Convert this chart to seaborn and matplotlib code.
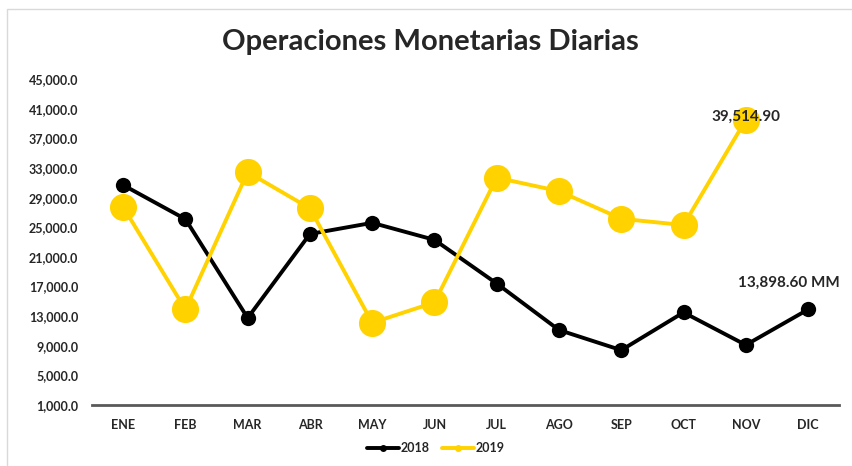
import pandas as pd
import seaborn as sb
import matplotlib.pyplot as plt
from matplotlib.patches import Rectangle

MESES = ["ENE", "FEB", "MAR", "ABR", "MAY", "JUN", "JUL", "AGO", "SEP", "OCT", "NOV", "DIC"]
OPS_2018 = [30700, 26100, 12750, 24100, 25600, 23300, 17400, 11120, 8400, 13500, 9100, 13898.60]
OPS_2019 = [27750, 13900, 32450, 27550, 12100, 14850, 31700, 29880, 26150, 25300, 39514.90, None]
Y_TICKS = [1000, 5000, 9000, 13000, 17000, 21000, 25000, 29000, 33000, 37000, 41000, 45000]

sb.set_theme(style="white")
plt.rcParams['font.family'] = ['Lato', 'DejaVu Sans']

AMARILLO = "#FFD200"


def plot_operaciones(out_file="out.png"):
    df = pd.DataFrame({"mes": MESES, "2018": OPS_2018, "2019": OPS_2019})

    fig = plt.figure(figsize=(8.52, 4.66), dpi=100)
    ax = fig.add_axes([0.108, 0.131, 0.877, 0.699])

    sb.lineplot(data=df, x="mes", y="2018", ax=ax, color="black", linewidth=2.8,
                marker="o", markersize=11, markeredgewidth=0, label="2018", sort=False)
    sb.lineplot(data=df.dropna(), x="mes", y="2019", ax=ax, color=AMARILLO, linewidth=2.8,
                marker="o", markersize=19.5, markeredgewidth=0, label="2019", sort=False)

    ax.set_xlim(-0.5, len(MESES) - 0.5)
    ax.set_ylim(Y_TICKS[0], Y_TICKS[-1])
    ax.set_yticks(Y_TICKS)
    ax.set_yticklabels([f"{v:,.1f}" for v in Y_TICKS], fontsize=9, fontweight="bold")
    ax.set_xticks(range(len(MESES)))
    ax.set_xticklabels(MESES, fontsize=9, fontweight="bold")
    ax.tick_params(axis="x", length=0, pad=10)
    ax.tick_params(axis="y", length=0, pad=10)
    ax.set_xlabel("")
    ax.set_ylabel("")
    for side in ["top", "right", "left"]:
        ax.spines[side].set_visible(False)
    ax.spines["bottom"].set_color("#595959")
    ax.spines["bottom"].set_linewidth(2)

    # etiquetas de datos
    ax.annotate(f"{OPS_2019[10]:,.2f}", (10, OPS_2019[10]), xytext=(0, 2),
                textcoords="offset points", ha="center", va="center",
                fontsize=11, fontweight="bold")
    ax.annotate(f"{OPS_2018[11]:,.2f} MM", (11, OPS_2018[11]), xytext=(-14, 19),
                textcoords="offset points", ha="center", va="center",
                fontsize=11, fontweight="bold")

    leg = ax.legend(loc="center", bbox_to_anchor=(0.46, -0.132), ncol=2, frameon=False,
                    handlelength=2.6, columnspacing=1.0, handletextpad=0.1,
                    prop={"weight": "bold", "size": 9})
    for h in leg.legend_handles:
        h.set_markersize(5)

    fig.text(0.505, 0.91, "Operaciones Monetarias Diarias", ha="center", va="center",
             fontsize=21, fontweight="bold")
    fig.patches.append(Rectangle((7 / 852, -0.05), 1.2, 1 - 9 / 466 + 0.05,
                                 transform=fig.transFigure, fill=False,
                                 edgecolor="#D9D9D9", linewidth=1))

    fig.savefig(out_file, dpi=100)


if __name__ == "__main__":
    plot_operaciones()
